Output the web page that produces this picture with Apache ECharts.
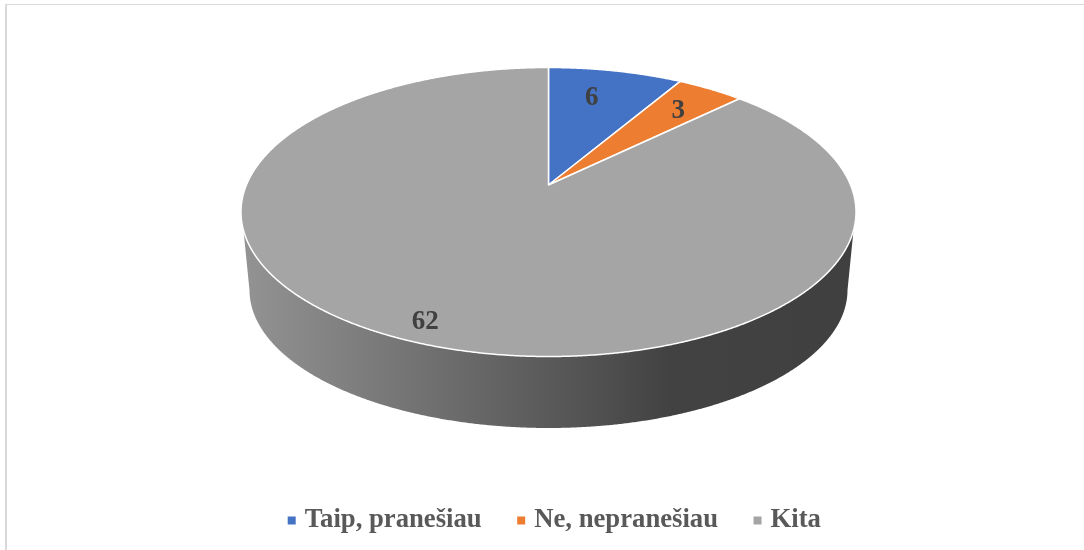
<!DOCTYPE html>
<html>
<head>
<meta charset="utf-8">
<style>
    html, body { margin: 0; padding: 0; background: #fff; }
    #chart { width: 1084px; height: 550px; }
</style>
</head>
<body>
<div id="chart"></div>
<script src="https://cdn.jsdelivr.net/npm/echarts@6/dist/echarts.min.js"></script>
<script>
    const categories = ['Taip, pranešiau', 'Ne, nepranešiau', 'Kita'];
    const values = [6, 3, 62];
    const colors = ['#4472c4', '#ed7d31', '#a5a5a5'];

    // tilted disc: top and bottom rim as ellipses, pieTilt moves the apex off the ellipse centre
    const topRim = { cx: 548.5, cy: 212, rx: 307.5, ry: 144.5 };
    const bottomRim = { cx: 548.5, cy: 290, rx: 299, ry: 138 };
    const pieTilt = 0.187;
    const topFrontLimit = -0.125;
    const labelReach = 0.75;
    const labelNudge = [[-7, -1.5], [8, -2], [-17, 20.5]];

    const total = values.reduce((a, b) => a + b, 0);

    function project(deg, rim) {
        const a = deg * Math.PI / 180;
        const x = Math.sin(a), y = Math.cos(a);
        const ny = (y + pieTilt) / (1 + pieTilt * y);
        const nx = x * Math.sqrt(1 - pieTilt * pieTilt) / (1 + pieTilt * y);
        return { ny: ny, pt: [rim.cx + nx * rim.rx, rim.cy - ny * rim.ry] };
    }

    function arc(from, to, rim, limit) {
        const pts = [];
        for (let d = from; d <= to; d += 0.25) {
            const p = project(d, rim);
            if (p.ny < limit) pts.push(p.pt);
        }
        return pts;
    }

    function renderSlice(index) {
        return function (params, api) {
            const before = values.slice(0, index).reduce((a, b) => a + b, 0);
            const from = before / total * 360;
            const to = from + api.value(0) / total * 360;
            const apex = [topRim.cx, topRim.cy - pieTilt * topRim.ry];
            const children = [];

            // side wall, only the part of the slice that faces the viewer
            const upper = arc(from, to, topRim, topFrontLimit);
            const lower = arc(from, to, bottomRim, 0);
            if (upper.length && lower.length) {
                children.push({
                    type: 'polygon',
                    shape: { points: upper.concat(lower.reverse()) },
                    style: {
                        fill: new echarts.graphic.LinearGradient(0, 0, 1, 0, [
                            { offset: 0, color: '#939393' },
                            { offset: 0.5, color: '#5a5a5a' },
                            { offset: 0.7, color: '#424242' },
                            { offset: 1, color: '#404040' }
                        ]),
                        lineWidth: 0
                    }
                });
            }

            // top face
            const rimPts = arc(from, to, topRim, 2);
            rimPts.push(project(to, topRim).pt);
            children.push({
                type: 'polygon',
                shape: { points: [apex].concat(rimPts) },
                style: { fill: colors[index], stroke: '#fff', lineWidth: 1.5, lineJoin: 'round' }
            });

            // value label
            const mid = project((from + to) / 2, topRim).pt;
            children.push({
                type: 'text',
                z2: 10,
                style: {
                    text: String(api.value(0)),
                    x: apex[0] + (mid[0] - apex[0]) * labelReach + labelNudge[index][0],
                    y: apex[1] + (mid[1] - apex[1]) * labelReach + labelNudge[index][1],
                    fill: '#404040',
                    font: 'bold 27px "Liberation Serif"',
                    textAlign: 'center',
                    textVerticalAlign: 'middle'
                }
            });
            return { type: 'group', children: children };
        };
    }

    const myChart = echarts.init(document.getElementById('chart'));
    myChart.setOption({
        animation: false,
        color: colors,
        graphic: [
            { type: 'rect', silent: true, shape: { x: 5, y: 4, width: 1079, height: 1 }, style: { fill: '#d9d9d9' } },
            { type: 'rect', silent: true, shape: { x: 5, y: 4, width: 2, height: 546 }, style: { fill: '#d9d9d9' } }
        ],
        legend: {
            left: 282.7,
            top: 502,
            icon: 'rect',
            itemWidth: 8,
            itemHeight: 8,
            itemGap: 35.5,
            selectedMode: false,
            data: categories,
            textStyle: {
                fontFamily: 'Liberation Serif',
                fontWeight: 'bold',
                fontSize: 26.7,
                color: '#595959',
                padding: [0, 0, 0, 4]
            }
        },
        series: categories.map((name, i) => ({
            name: name,
            type: 'custom',
            coordinateSystem: 'none',
            itemStyle: { color: colors[i] },
            renderItem: renderSlice(i),
            silent: true,
            data: [[values[i]]]
        }))
    });
</script>
</body>
</html>
